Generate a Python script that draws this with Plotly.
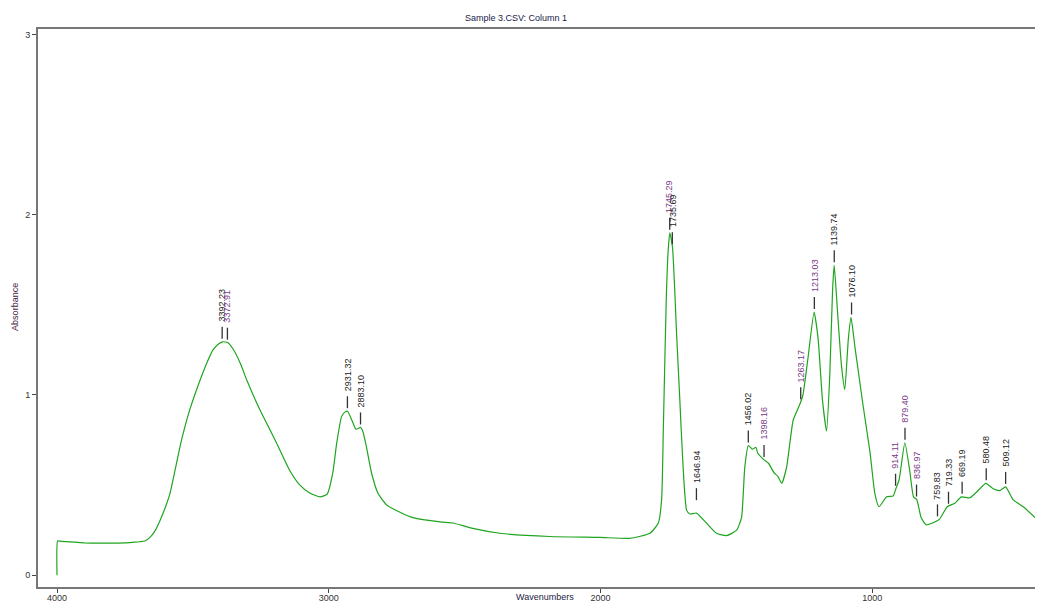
import plotly.graph_objects as go

# ---------------- data ----------------
wavenumber = [4000, 3998, 3990, 3950, 3900, 3850, 3800, 3750, 3720, 3695, 3677, 3658, 3640,
              3622, 3603, 3585, 3566, 3548, 3530, 3511, 3474, 3448, 3426, 3408, 3390, 3371,
              3346, 3324, 3301, 3254, 3224, 3191, 3143, 3106, 3070, 3032, 3006, 2985, 2971,
              2953, 2941, 2931, 2915, 2900, 2882, 2875, 2861, 2843, 2819, 2787, 2738, 2690,
              2590, 2543, 2470, 2370, 2186, 2002, 1892, 1818, 1787, 1775, 1769, 1758, 1751,
              1745, 1735, 1720, 1708, 1696, 1683, 1671, 1647, 1610, 1573, 1536, 1499, 1481,
              1469, 1456, 1441, 1428, 1422, 1398, 1381, 1362, 1348, 1333, 1315, 1291, 1266,
              1255, 1236, 1214, 1199, 1183, 1168, 1156, 1146, 1140, 1129, 1113, 1101, 1088,
              1078, 1064, 1052, 1033, 1008, 990, 975, 947, 923, 913, 901, 880, 862, 848, 836,
              820, 802, 778, 753, 724, 696, 672, 641, 610, 582, 555, 530, 509, 482, 444, 401]
absorbance = [0.0, 0.19, 0.19, 0.185, 0.18, 0.178, 0.178, 0.18, 0.183, 0.186, 0.19, 0.21, 0.245,
              0.30, 0.37, 0.45, 0.58, 0.71, 0.82, 0.92, 1.08, 1.18, 1.25, 1.28, 1.295, 1.29,
              1.24, 1.17, 1.08, 0.92, 0.83, 0.73, 0.58, 0.50, 0.456, 0.435, 0.45, 0.57, 0.73,
              0.88, 0.905, 0.91, 0.86, 0.81, 0.82, 0.80, 0.71, 0.57, 0.455, 0.39, 0.35, 0.32,
              0.296, 0.29, 0.26, 0.233, 0.215, 0.21, 0.205, 0.233, 0.29, 0.42, 0.79, 1.53, 1.80,
              1.90, 1.82, 1.34, 0.97, 0.60, 0.36, 0.34, 0.345, 0.29, 0.233, 0.22, 0.25, 0.32,
              0.60, 0.72, 0.70, 0.71, 0.68, 0.64, 0.62, 0.57, 0.55, 0.51, 0.60, 0.86, 0.95,
              1.00, 1.21, 1.46, 1.31, 0.97, 0.80, 1.12, 1.58, 1.72, 1.49, 1.16, 1.03, 1.31,
              1.43, 1.27, 1.14, 0.935, 0.68, 0.45, 0.38, 0.435, 0.44, 0.48, 0.53, 0.735, 0.58,
              0.435, 0.42, 0.32, 0.28, 0.29, 0.31, 0.38, 0.40, 0.435, 0.43, 0.47, 0.51, 0.48,
              0.47, 0.49, 0.42, 0.38, 0.32]

peak_labels = ["3392.23", "3372.91", "2931.32", "2883.10", "1745.29", "1735.69", "1646.94",
               "1456.02", "1398.16", "1263.17", "1213.03", "1139.74", "1076.10", "914.11",
               "879.40", "836.97", "759.83", "719.33", "669.19", "580.48", "509.12"]
peak_wn = [3392.23, 3372.91, 2931.32, 2883.10, 1745.29, 1735.69, 1646.94, 1456.02, 1398.16,
           1263.17, 1213.03, 1139.74, 1076.10, 914.11, 879.40, 836.97, 759.83, 719.33,
           669.19, 580.48, 509.12]
peak_abs = [1.295, 1.29, 0.91, 0.82, 1.90, 1.82, 0.40, 0.72, 0.64, 0.96, 1.46, 1.72, 1.43,
            0.48, 0.735, 0.42, 0.31, 0.38, 0.435, 0.51, 0.49]

x_ticks = [4000, 3000, 2000, 1000]
y_ticks = [0, 1, 2, 3]

# ---------------- style ----------------
FONT = "Liberation Sans, Arial, sans-serif"
purple_labels = {"3372.91", "1745.29", "1398.16", "1263.17", "1213.03", "914.11", "879.40", "836.97"}
W, H = 1027, 594          # page body has an 8px margin; keep the figure inside the window

fig = go.Figure()
fig.add_trace(go.Scatter(x=wavenumber, y=absorbance, mode="lines",
                         line=dict(color="rgb(30,165,30)", width=1.2, shape="spline", smoothing=0.5),
                         hoverinfo="skip", showlegend=False))

for lab, xv, yv in zip(peak_labels, peak_wn, peak_abs):
    col = "#7a3a86" if lab in purple_labels else "#222222"
    fig.add_shape(type="line", xref="x", yref="y", x0=xv, x1=xv,
                  ysizemode="pixel", yanchor=yv, y0=3, y1=15,
                  line=dict(color="#333333", width=1.3))
    fig.add_annotation(x=xv, y=yv, xref="x", yref="y", text=lab, showarrow=False,
                       textangle=-90, xanchor="center", yanchor="bottom", yshift=18,
                       font=dict(family=FONT, size=9, color=col))

fig.add_annotation(text="Wavenumbers", xref="paper", yref="paper", x=(545 - 38) / 997, y=0,
                   yanchor="middle", yshift=-10, showarrow=False,
                   font=dict(family=FONT, size=9, color="#222244"))
fig.add_annotation(text="Absorbance", xref="paper", yref="paper", x=0, y=0.502,
                   xanchor="center", xshift=-23, textangle=-90, showarrow=False,
                   font=dict(family=FONT, size=9, color="#442244"))

fig.update_layout(
    width=W, height=H,
    margin=dict(l=30, r=0, t=21, b=15, autoexpand=False),
    paper_bgcolor="white", plot_bgcolor="white",
    title=dict(text="Sample 3.CSV: Column 1", x=508 / W, xref="container",
               xanchor="center", y=1 - 10 / H, yanchor="middle", yref="container",
               font=dict(family=FONT, size=9, color="#1a1a4a")),
    xaxis=dict(range=[4070, 401], tickvals=x_ticks, ticks="outside", ticklen=4,
               ticklabelstandoff=-3,
               tickcolor="#444", showline=True, linecolor="#777", linewidth=2, mirror=True,
               showgrid=False, zeroline=False, tickfont=dict(family=FONT, size=9, color="#333")),
    yaxis=dict(range=[-0.065, 3.03], tickvals=y_ticks, ticks="outside", ticklen=4,
               tickcolor="#444", showline=True, linecolor="#777", linewidth=2,
               showgrid=False, zeroline=False, tickfont=dict(family=FONT, size=9, color="#333")),
)

fig.write_html("out.html")
